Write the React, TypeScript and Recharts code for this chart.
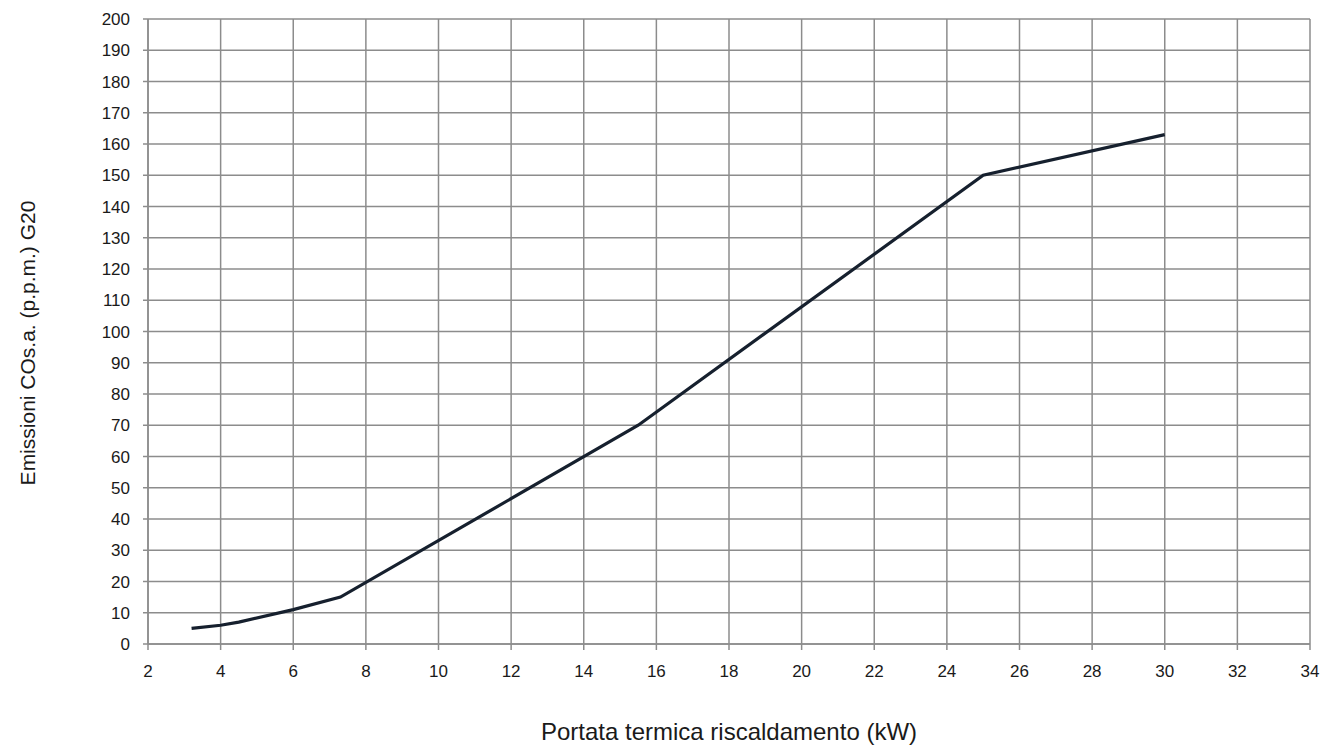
import React from 'react';
import { LineChart, Line, XAxis, YAxis, CartesianGrid } from 'recharts';

// values
const portata = [3.2, 4, 4.5, 6, 7.3, 15.5, 25, 30];
const emissioni = [5, 6, 7, 11, 15, 70, 150, 163];

const xTicks = [2, 4, 6, 8, 10, 12, 14, 16, 18, 20, 22, 24, 26, 28, 30, 32, 34];
const yTicks = [0, 10, 20, 30, 40, 50, 60, 70, 80, 90, 100, 110, 120, 130, 140, 150, 160, 170, 180, 190, 200];

const data = portata.map((p, i) => ({ p, co: emissioni[i] }));

const GRID = '#8c8c8c';
const FONT = '"Liberation Sans", Arial, sans-serif';

export default function App() {
  return (
    <div style={{ position: 'absolute', left: 0, top: 0, width: 1322, height: 746, background: '#fff', fontFamily: FONT }}>
      <LineChart width={1322} height={746} data={data} margin={{ top: 19, right: 12, left: 88, bottom: 72 }}>
        <CartesianGrid stroke={GRID} strokeWidth={1.5} />
        <XAxis
          type="number"
          dataKey="p"
          domain={[2, 34]}
          ticks={xTicks}
          interval={0}
          height={30}
          tickSize={6}
          tickMargin={15}
          axisLine={{ stroke: GRID, strokeWidth: 1.5 }}
          tickLine={{ stroke: GRID, strokeWidth: 1.5 }}
          tick={{ fill: '#1a1a1a', fontSize: 17, fontFamily: FONT }}
        />
        <YAxis
          type="number"
          domain={[0, 200]}
          ticks={yTicks}
          interval={0}
          width={60}
          tickSize={5}
          tickMargin={13}
          axisLine={{ stroke: GRID, strokeWidth: 1.5 }}
          tickLine={{ stroke: GRID, strokeWidth: 1.5 }}
          tick={{ fill: '#1a1a1a', fontSize: 17, fontFamily: FONT }}
        />
        <Line
          type="linear"
          dataKey="co"
          stroke="#16202e"
          strokeWidth={3.2}
          dot={false}
          isAnimationActive={false}
        />
      </LineChart>
      <div
        style={{
          position: 'absolute',
          left: 0,
          top: 718,
          width: 1458,
          textAlign: 'center',
          fontSize: 24,
          lineHeight: 'normal',
          color: '#1a1a1a',
        }}
      >
        Portata termica riscaldamento (kW)
      </div>
      <div
        style={{
          position: 'absolute',
          left: 28,
          top: 343,
          transform: 'translate(-50%, -50%) rotate(-90deg)',
          whiteSpace: 'nowrap',
          fontSize: 21,
          color: '#1a1a1a',
        }}
      >
        Emissioni COs.a. (p.p.m.) G20
      </div>
    </div>
  );
}
